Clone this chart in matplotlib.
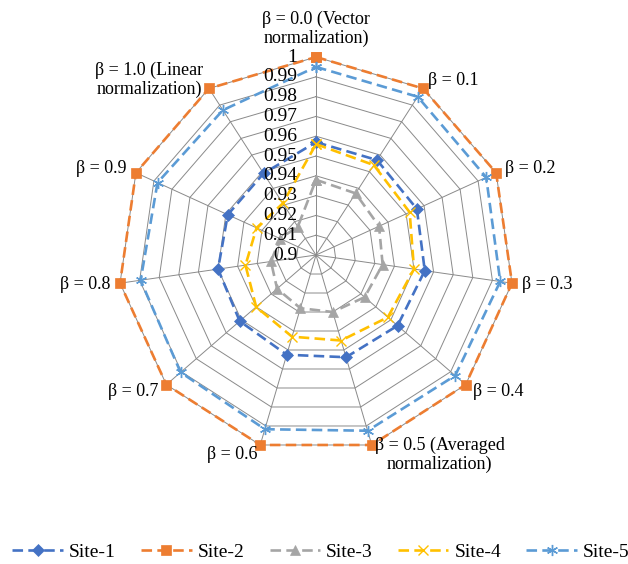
import numpy as np
import matplotlib
matplotlib.use("Agg")
import matplotlib.pyplot as plt

plt.rcParams['font.family'] = ['Liberation Serif', 'DejaVu Serif']

# Axis categories (clockwise from top)
categories = [
    'β = 0.0 (Vector\nnormalization)', 'β = 0.1', 'β = 0.2', 'β = 0.3', 'β = 0.4',
    'β = 0.5 (Averaged\nnormalization)', 'β = 0.6', 'β = 0.7', 'β = 0.8', 'β = 0.9',
    'β = 1.0 (Linear\nnormalization)',
]

# Radial scale
r_min, r_max, r_step = 0.90, 1.00, 0.01
tick_labels = ['0.9', '0.91', '0.92', '0.93', '0.94', '0.95', '0.96', '0.97', '0.98', '0.99', '1']

# Series values per β
site_names = ['Site-1', 'Site-2', 'Site-3', 'Site-4', 'Site-5']
site1 = [0.957, 0.957, 0.956, 0.9555, 0.9545, 0.9538, 0.9525, 0.951, 0.950, 0.949, 0.949]
site2 = [1.000, 1.000, 1.000, 1.000, 1.000, 1.000, 1.000, 1.000, 1.000, 1.000, 1.000]
site3 = [0.938, 0.937, 0.935, 0.934, 0.9325, 0.930, 0.928, 0.926, 0.923, 0.920, 0.917]
site4 = [0.956, 0.954, 0.952, 0.950, 0.948, 0.945, 0.943, 0.940, 0.936, 0.933, 0.931]
site5 = [0.995, 0.995, 0.9945, 0.994, 0.993, 0.9925, 0.9917, 0.9905, 0.9895, 0.988, 0.987]
series = [site1, site2, site3, site4, site5]

colors = ['#4472C4', '#ED7D31', '#A5A5A5', '#FFC000', '#5B9BD5']
markers = ['D', 's', '^', 'x', (6, 2, 0)]
msizes = [6, 7, 7, 7, 8]

fig = plt.figure(figsize=(6.28, 5.64), dpi=100)
ax = fig.add_axes([0.1879, 0.1968, 0.6306, 0.7021], projection='polar')
ax.set_theta_zero_location('N')
ax.set_theta_direction(-1)
ax.set_ylim(r_min, r_max)
ax.grid(False)
ax.set_xticks([])
ax.set_yticks([])
ax.spines['polar'].set_visible(False)
ax.patch.set_visible(False)

n = len(categories)
theta = np.arange(n) * 2 * np.pi / n
theta_closed = np.append(theta, theta[0])

# Polygonal gridlines and spokes
grid_color = '#8a8a8a'
levels = np.arange(1, len(tick_labels)) * r_step + r_min
for lv in levels:
    ax.plot(theta_closed, np.full(n + 1, lv), color=grid_color, lw=0.7, zorder=1, clip_on=False)
for t in theta:
    ax.plot([t, t], [r_min, r_max], color=grid_color, lw=0.7, zorder=1, clip_on=False)

# Data series
handles = []
for name, vals, c, m, ms in zip(site_names, series, colors, markers, msizes):
    v = np.append(vals, vals[0])
    mew = 1.0 if m in ('x', (6, 2, 0)) else 0.5
    h, = ax.plot(theta_closed, v, color=c, lw=1.9, dashes=(4, 2), marker=m, markersize=ms,
                 markerfacecolor=c, markeredgecolor=c, markeredgewidth=mew,
                 label=name, zorder=3, clip_on=False)
    handles.append(h)

# Radial tick labels along the vertical axis
for i, lab in enumerate(tick_labels):
    ax.annotate(lab, xy=(0, r_min + i * r_step), xytext=(-19, 0), textcoords='offset pixels',
                ha='right', va='center', fontsize=14, zorder=5)

# Category labels outside each vertex
for t, lab in zip(theta, categories):
    s, c = np.sin(t), np.cos(t)
    if s > 0.15:
        ha = 'left'
    elif s < -0.15:
        ha = 'right'
    else:
        ha = 'center'
    va = 'bottom' if ha == 'center' else 'center'
    ax.annotate(lab, xy=(t, r_max), xytext=(10 * s, 10 * c), textcoords='offset pixels',
                ha=ha, va=va, multialignment='center', fontsize=13, linespacing=1.15)

fig.legend(handles=handles, loc='center', bbox_to_anchor=(0.511, 0.0213), ncol=5,
           frameon=False, fontsize=14, handlelength=2.6, handletextpad=0.3,
           columnspacing=1.3, numpoints=1)

fig.savefig('out.png', dpi=100)
